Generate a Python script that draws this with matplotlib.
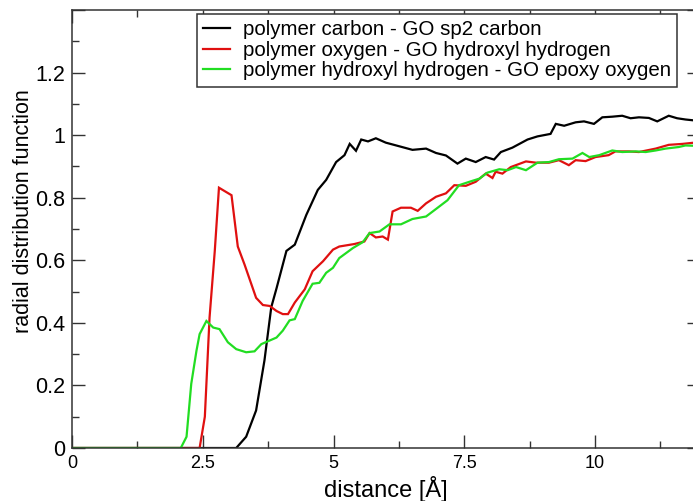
import matplotlib
matplotlib.use("Agg")
import matplotlib.pyplot as plt
from matplotlib.ticker import MultipleLocator, FuncFormatter

plt.rcParams['font.family'] = ['Liberation Sans', 'DejaVu Sans']

# Radial distribution functions g(r) between polymer and graphene oxide sites
carbon_r = [0, 3.14, 3.33, 3.52, 3.68, 3.81, 3.91, 4.10, 4.26, 4.48, 4.70, 4.86,
            5.05, 5.21, 5.31, 5.43, 5.53, 5.66, 5.81, 6.0, 6.2, 6.51, 6.77, 6.96,
            7.15, 7.37, 7.53, 7.72, 7.91, 8.07, 8.2, 8.42, 8.71, 8.9, 9.15, 9.25,
            9.41, 9.63, 9.79, 9.98, 10.14, 10.33, 10.52, 10.68, 10.84, 11.03,
            11.19, 11.41, 11.57, 11.73, 11.9]
carbon_g = [0, 0, 0.036, 0.12, 0.28, 0.45, 0.51, 0.63, 0.65, 0.745, 0.825, 0.857,
            0.914, 0.936, 0.972, 0.95, 0.986, 0.98, 0.99, 0.976, 0.967, 0.953,
            0.957, 0.943, 0.935, 0.909, 0.925, 0.914, 0.93, 0.922, 0.946, 0.96,
            0.986, 0.996, 1.004, 1.036, 1.03, 1.041, 1.044, 1.036, 1.057, 1.059,
            1.062, 1.054, 1.057, 1.055, 1.044, 1.062, 1.054, 1.05, 1.047]

hydroxyl_r = [0, 2.44, 2.54, 2.63, 2.73, 2.81, 3.05, 3.17, 3.30, 3.52, 3.65, 3.78,
              3.91, 4.03, 4.13, 4.26, 4.45, 4.6, 4.8, 4.99, 5.11, 5.4, 5.59, 5.69,
              5.81, 5.94, 6.04, 6.13, 6.29, 6.48, 6.61, 6.77, 6.96, 7.15, 7.31,
              7.53, 7.72, 7.91, 8.04, 8.1, 8.23, 8.39, 8.68, 8.87, 9.12, 9.31, 9.5,
              9.63, 9.82, 10.01, 10.26, 10.39, 10.65, 10.84, 11.16, 11.41, 11.67,
              11.9]
hydroxyl_g = [0, 0, 0.1, 0.417, 0.63, 0.832, 0.808, 0.644, 0.586, 0.48, 0.457,
              0.454, 0.438, 0.428, 0.428, 0.465, 0.507, 0.565, 0.597, 0.634, 0.644,
              0.652, 0.66, 0.687, 0.673, 0.676, 0.666, 0.756, 0.768, 0.768, 0.758,
              0.782, 0.803, 0.814, 0.84, 0.838, 0.851, 0.877, 0.863, 0.883, 0.877,
              0.898, 0.916, 0.912, 0.912, 0.92, 0.904, 0.92, 0.917, 0.93, 0.936,
              0.948, 0.948, 0.946, 0.957, 0.969, 0.972, 0.976]

epoxy_r = [0, 2.08, 2.19, 2.28, 2.38, 2.44, 2.57, 2.70, 2.82, 2.98, 3.14, 3.33,
           3.49, 3.62, 3.91, 4.03, 4.16, 4.26, 4.41, 4.6, 4.73, 4.86, 4.99, 5.11,
           5.37, 5.56, 5.69, 5.88, 6.07, 6.29, 6.51, 6.77, 6.96, 7.18, 7.40, 7.6,
           7.79, 7.94, 8.17, 8.33, 8.49, 8.68, 8.9, 9.12, 9.31, 9.57, 9.76, 9.89,
           10.08, 10.33, 10.52, 10.78, 10.97, 11.16, 11.35, 11.6, 11.73, 11.9]
epoxy_g = [0, 0, 0.036, 0.205, 0.311, 0.364, 0.406, 0.385, 0.38, 0.338, 0.316,
           0.306, 0.309, 0.332, 0.353, 0.375, 0.408, 0.412, 0.47, 0.525, 0.528,
           0.56, 0.576, 0.607, 0.639, 0.658, 0.687, 0.692, 0.715, 0.715, 0.732,
           0.74, 0.764, 0.792, 0.84, 0.851, 0.861, 0.88, 0.891, 0.888, 0.898,
           0.888, 0.912, 0.914, 0.923, 0.925, 0.943, 0.93, 0.936, 0.951, 0.946,
           0.948, 0.946, 0.951, 0.957, 0.962, 0.967, 0.966]

labels = ["polymer carbon - GO sp2 carbon",
          "polymer oxygen - GO hydroxyl hydrogen",
          "polymer hydroxyl hydrogen - GO epoxy oxygen"]
colors = ["#000000", "#e01010", "#22dd22"]

W, H = 693, 501
fig = plt.figure(figsize=(W / 100, H / 100), dpi=100)
ax = fig.add_axes([72 / W, (H - 448) / H, (699.6 - 72) / W, 438 / H])

for r, g, lab, c in zip([carbon_r, hydroxyl_r, epoxy_r],
                        [carbon_g, hydroxyl_g, epoxy_g], labels, colors):
    ax.plot(r, g, color=c, lw=1.6, label=lab, solid_joinstyle='miter')

ax.set_xlim(0, 12)
ax.set_ylim(0, 1.4)
ax.xaxis.set_major_locator(MultipleLocator(2.5))
ax.xaxis.set_minor_locator(MultipleLocator(1.25))
ax.yaxis.set_major_locator(MultipleLocator(0.2))
ax.yaxis.set_minor_locator(MultipleLocator(0.1))
ax.xaxis.set_major_formatter(FuncFormatter(lambda v, p: "%g" % round(v, 3)))
ax.yaxis.set_major_formatter(
    FuncFormatter(lambda v, p: "%g" % round(v, 3) if v < 1.3 else ""))

spine_col = "#333333"
for s in ax.spines.values():
    s.set_color(spine_col)
    s.set_linewidth(1.1)
ax.tick_params(which='both', direction='in', top=True, right=True,
               color=spine_col, width=1.0)
ax.tick_params(which='major', length=9.5, pad=5)
ax.tick_params(which='minor', length=5)
ax.tick_params(axis='x', labelsize=13)
ax.tick_params(axis='y', labelsize=15.5)

ax.set_xlabel("distance [Å]", fontsize=17)
ax.set_ylabel("radial distribution function", fontsize=15.5)
ax.xaxis.set_label_coords(0.5, -0.064)
ax.yaxis.set_label_coords(-0.060, 0.541)

leg = ax.legend(loc='upper right', bbox_to_anchor=(0.964, 0.991),
                borderaxespad=0, fontsize=14.8, frameon=True, fancybox=False,
                edgecolor=spine_col, framealpha=1, handlelength=1.33,
                handletextpad=0.6, labelspacing=0.08, borderpad=0.3)
leg.get_frame().set_linewidth(1.1)

fig.savefig("out.png", dpi=100)
